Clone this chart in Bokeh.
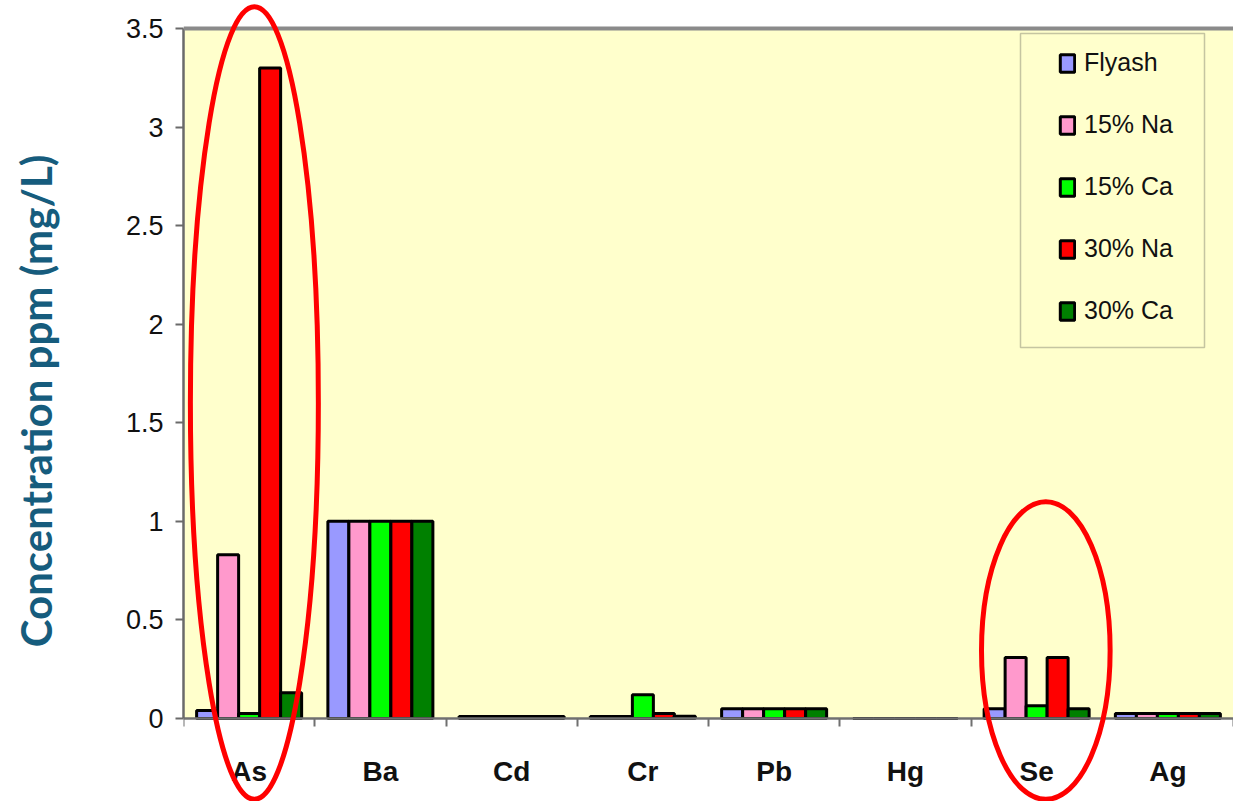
from bokeh.plotting import figure
from bokeh.models import (ColumnDataSource, FactorRange, Range1d, Legend, LegendItem,
                          BoxAnnotation, Span, LinearAxis, FixedTicker,
                          PrintfTickFormatter)
from bokeh.transform import dodge
from bokeh.embed import file_html
from bokeh.resources import INLINE

# Leachate concentrations by element and sample
elements = ["As", "Ba", "Cd", "Cr", "Pb", "Hg", "Se", "Ag"]
series_names = ["Flyash", "15% Na", "15% Ca", "30% Na", "30% Ca"]
flyash = [0.04, 1.0, 0.01, 0.01, 0.05, 0.0, 0.05, 0.025]
na_15 = [0.83, 1.0, 0.01, 0.01, 0.05, 0.0, 0.31, 0.025]
ca_15 = [0.025, 1.0, 0.01, 0.12, 0.05, 0.0, 0.065, 0.025]
na_30 = [3.30, 1.0, 0.01, 0.025, 0.05, 0.0, 0.31, 0.025]
ca_30 = [0.13, 1.0, 0.01, 0.012, 0.05, 0.0, 0.05, 0.025]
y_ticks = [0, 0.5, 1, 1.5, 2, 2.5, 3, 3.5]

colors = ["#9999FF", "#FF99CC", "#00FF00", "#FF0000", "#008000"]
offsets = [-0.32, -0.16, 0.0, 0.16, 0.32]
bar_w = 0.16

source = ColumnDataSource(dict(element=elements, flyash=flyash, na_15=na_15,
                               ca_15=ca_15, na_30=na_30, ca_30=ca_30))
columns = ["flyash", "na_15", "ca_15", "na_30", "ca_30"]

p = figure(width=1233, height=801,
           x_range=FactorRange(*elements, range_padding=0),
           y_range=Range1d(-0.421, 3.642),
           output_backend="svg", toolbar_location=None,
           min_border_left=183, min_border_right=0,
           min_border_top=0, min_border_bottom=0)
p.outline_line_color = None
p.xgrid.visible = False
p.ygrid.visible = False
p.background_fill_color = "white"
p.border_fill_color = "white"

# plot area fill and top border
p.add_layout(BoxAnnotation(bottom=0, top=3.5, fill_color="#FFFFCC", fill_alpha=1,
                           line_color=None, level="underlay"))
p.add_layout(Span(location=3.5, dimension="width", line_color="#8A8A8A", line_width=4))

renderers = []
for col, color, off in zip(columns, colors, offsets):
    r = p.vbar(x=dodge("element", off, range=p.x_range), top=col, width=bar_w,
               source=source, fill_color=color, line_color="black", line_width=3)
    renderers.append(r)

# y axis
yax = p.yaxis[0]
yax.ticker = FixedTicker(ticks=y_ticks)
yax.formatter = PrintfTickFormatter(format="%g")
yax.bounds = (0, 3.5)
yax.axis_line_color = "#6A6A6A"
yax.axis_line_width = 2.5
yax.major_tick_line_color = "#6A6A6A"
yax.major_tick_line_width = 2
yax.major_tick_in = 0
yax.major_tick_out = 8
yax.minor_tick_line_color = None
yax.major_label_standoff = 12
yax.major_label_text_font = "Liberation Sans"
yax.major_label_text_font_size = "27px"
yax.major_label_text_color = "#111111"
yax.axis_label = "Concentration ppm (mg/L)"
yax.axis_label_text_font = "Lato"
yax.axis_label_text_font_style = "bold"
yax.axis_label_text_font_size = "42px"
yax.axis_label_text_color = "#165C7D"
yax.axis_label_standoff = 62

# category axis placed on the zero line
xax = p.xaxis[0]
xax.fixed_location = 0
xax.axis_line_color = "#707070"
xax.axis_line_width = 2.5
xax.major_tick_line_color = None
xax.major_tick_out = 0
xax.major_tick_in = 0
xax.minor_tick_line_color = None
xax.major_label_standoff = 37
xax.major_label_text_font = "Liberation Sans Narrow, Liberation Sans"
xax.major_label_text_font_style = "bold"
xax.major_label_text_font_size = "28px"
xax.major_label_text_color = "#111111"

# separator ticks on the boundaries between element groups
sep = LinearAxis(fixed_location=0,
                 ticker=FixedTicker(ticks=list(range(len(elements) + 1))),
                 axis_line_color=None, major_label_text_alpha=0,
                 major_label_text_font_size="1px",
                 major_tick_in=0, major_tick_out=8,
                 major_tick_line_color="#707070", major_tick_line_width=2,
                 minor_tick_line_color=None)
p.add_layout(sep, "below")

# highlight rings around As and Se
ring_as = ColumnDataSource(dict(element=["As"]))
ring_se = ColumnDataSource(dict(element=["Se"]))
p.ellipse(x=dodge("element", 0.04, range=p.x_range), y=1.6, width=0.975, height=4.02,
          source=ring_as, fill_color=None, line_color="#FF0000", line_width=5,
          level="overlay")
p.ellipse(x=dodge("element", 0.07, range=p.x_range), y=0.345, width=0.98, height=1.51,
          source=ring_se, fill_color=None, line_color="#FF0000", line_width=5,
          level="overlay")

# legend
legend = Legend(items=[LegendItem(label=n, renderers=[r]) for n, r in zip(series_names, renderers)],
                location=(875, 476), padding=10, spacing=33,
                glyph_width=18, glyph_height=22, label_height=26, label_standoff=8,
                label_text_font="Liberation Sans", label_text_font_size="25px",
                label_text_color="#111111",
                border_line_color=None, background_fill_alpha=0)
p.add_layout(legend, "center")
p.add_layout(BoxAnnotation(left=837, right=1021, top=768, bottom=454,
                           left_units="screen", right_units="screen",
                           top_units="screen", bottom_units="screen",
                           fill_color=None, fill_alpha=0,
                           line_color="#404040", line_width=1.5))

open("out.html", "w").write(file_html(p, INLINE))
